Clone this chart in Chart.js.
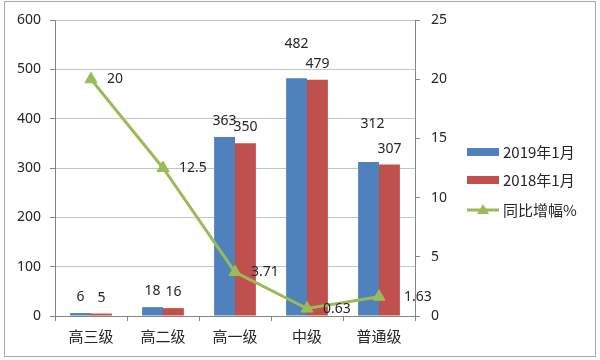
<!DOCTYPE html>
<html>
<head>
<meta charset="utf-8">
<script src="https://cdn.jsdelivr.net/npm/chart.js@4.4.1/dist/chart.umd.min.js"></script>
<style>
  html, body { margin: 0; padding: 0; background: #ffffff; }
  #wrap { width: 600px; height: 360px; position: relative; }
</style>
</head>
<body>
<div id="wrap"><canvas id="c" width="600" height="360"></canvas></div>
<script>
// ---- data ----
const categories = ['高三级', '高二级', '高一级', '中级', '普通级'];
const series2019 = [6, 18, 363, 482, 312];
const series2018 = [5, 16, 350, 479, 307];
const growthPct = [20, 12.5, 3.71, 0.63, 1.63];
const seriesNames = ['2019年1月', '2018年1月', '同比增幅%'];
const leftTicks = [0, 100, 200, 300, 400, 500, 600];
const rightTicks = [0, 5, 10, 15, 20, 25];

const BLUE = '#4F81BD', RED = '#C0504D', GREEN = '#9BBB59';
const NUM_FONT = '"Noto Sans", "Noto Sans CJK SC", sans-serif';
const CJK_FONT = '"Noto Sans CJK SC", "Noto Sans", sans-serif';
const TEXT = '#262626';

const labelPlugin = {
  id: 'valueLabels',
  afterDatasetsDraw(chart, args, opts) {
    const ctx = chart.ctx;
    ctx.save();
    ctx.font = '14px ' + NUM_FONT;
    ctx.fillStyle = TEXT;
    ctx.textBaseline = 'middle';
    chart.data.datasets.forEach((ds, di) => {
      const meta = chart.getDatasetMeta(di);
      meta.data.forEach((el, i) => {
        const nudge = (opts.nudge[di + '-' + i]) || [0, 0];
        const txt = String(ds.data[i]);
        if (ds.type === 'line') {
          ctx.textAlign = 'left';
          ctx.fillText(txt, el.x + 16 + nudge[0], el.y + nudge[1]);
        } else {
          ctx.textAlign = 'center';
          ctx.fillText(txt, el.x + nudge[0], el.y - 16 + nudge[1]);
        }
      });
    });
    ctx.restore();
  }
};

const framePlugin = {
  id: 'frameAndLegend',
  afterDraw(chart) {
    const ctx = chart.ctx;
    ctx.save();
    ctx.strokeStyle = '#a8a8a8';
    ctx.lineWidth = 1;
    ctx.strokeRect(4.5, 1.5, 591, 355);
    // legend
    const lx = 467, rows = [152, 180, 210];
    ctx.font = '15px ' + CJK_FONT;
    ctx.textBaseline = 'middle';
    ctx.textAlign = 'left';
    ctx.fillStyle = BLUE;
    ctx.fillRect(lx, rows[0] - 4, 32, 8);
    ctx.fillStyle = RED;
    ctx.fillRect(lx, rows[1] - 4, 32, 8);
    ctx.strokeStyle = GREEN;
    ctx.lineWidth = 3;
    ctx.beginPath();
    ctx.moveTo(lx, rows[2]);
    ctx.lineTo(lx + 32, rows[2]);
    ctx.stroke();
    ctx.fillStyle = GREEN;
    ctx.beginPath();
    ctx.moveTo(lx + 16, rows[2] - 6);
    ctx.lineTo(lx + 22, rows[2] + 4);
    ctx.lineTo(lx + 10, rows[2] + 4);
    ctx.closePath();
    ctx.fill();
    ctx.fillStyle = TEXT;
    seriesNames.forEach((n, i) => ctx.fillText(n, lx + 36, rows[i]));
    ctx.restore();
  }
};

new Chart(document.getElementById('c'), {
  type: 'bar',
  data: {
    labels: categories,
    datasets: [
      {
        type: 'line', label: seriesNames[2], data: growthPct, yAxisID: 'y1',
        borderColor: GREEN, backgroundColor: GREEN, borderWidth: 3,
        pointStyle: 'triangle', pointRadius: 7, pointBackgroundColor: GREEN,
        pointBorderColor: GREEN, pointBorderWidth: 1, tension: 0, order: 0
      },
      { label: seriesNames[0], data: series2019, backgroundColor: BLUE, yAxisID: 'y',
        categoryPercentage: 0.58, barPercentage: 1.0, order: 1 },
      { label: seriesNames[1], data: series2018, backgroundColor: RED, yAxisID: 'y',
        categoryPercentage: 0.58, barPercentage: 1.0, order: 1 }
    ]
  },
  options: {
    responsive: false,
    animation: false,
    events: [],
    layout: { padding: { left: 0, right: 140, top: 20, bottom: 14 } },
    plugins: {
      legend: { display: false },
      tooltip: { enabled: false },
      valueLabels: { nudge: { '1-3': [0, -18], '1-4': [4, -22], '0-4': [9, 0] } }
    },
    scales: {
      x: {
        offset: true,
        grid: { offset: true, drawOnChartArea: false, drawTicks: true, tickLength: 5, color: '#868686' },
        border: { display: true, color: '#868686' },
        ticks: { color: TEXT, font: { family: CJK_FONT, size: 15 }, padding: 6, maxRotation: 0 },
        afterFit(s) { s.height = 30; }
      },
      y: {
        position: 'left', min: 0, max: 600,
        afterBuildTicks(s) { s.ticks = leftTicks.map(v => ({ value: v })); },
        grid: { color: '#c4c4c4', tickLength: 5, drawTicks: true, tickColor: '#868686' },
        border: { display: true, color: '#868686' },
        ticks: { color: TEXT, font: { family: NUM_FONT, size: 14 }, padding: 9 },
        afterFit(s) { s.width = 55; }
      },
      y1: {
        position: 'right', min: 0, max: 25,
        afterBuildTicks(s) { s.ticks = rightTicks.map(v => ({ value: v })); },
        grid: { drawOnChartArea: false, tickLength: 5, color: '#868686' },
        border: { display: true, color: '#868686' },
        ticks: { color: TEXT, font: { family: NUM_FONT, size: 14 }, padding: 11 },
        afterFit(s) { s.width = 45; }
      }
    }
  },
  plugins: [labelPlugin, framePlugin]
});
</script>
</body>
</html>
